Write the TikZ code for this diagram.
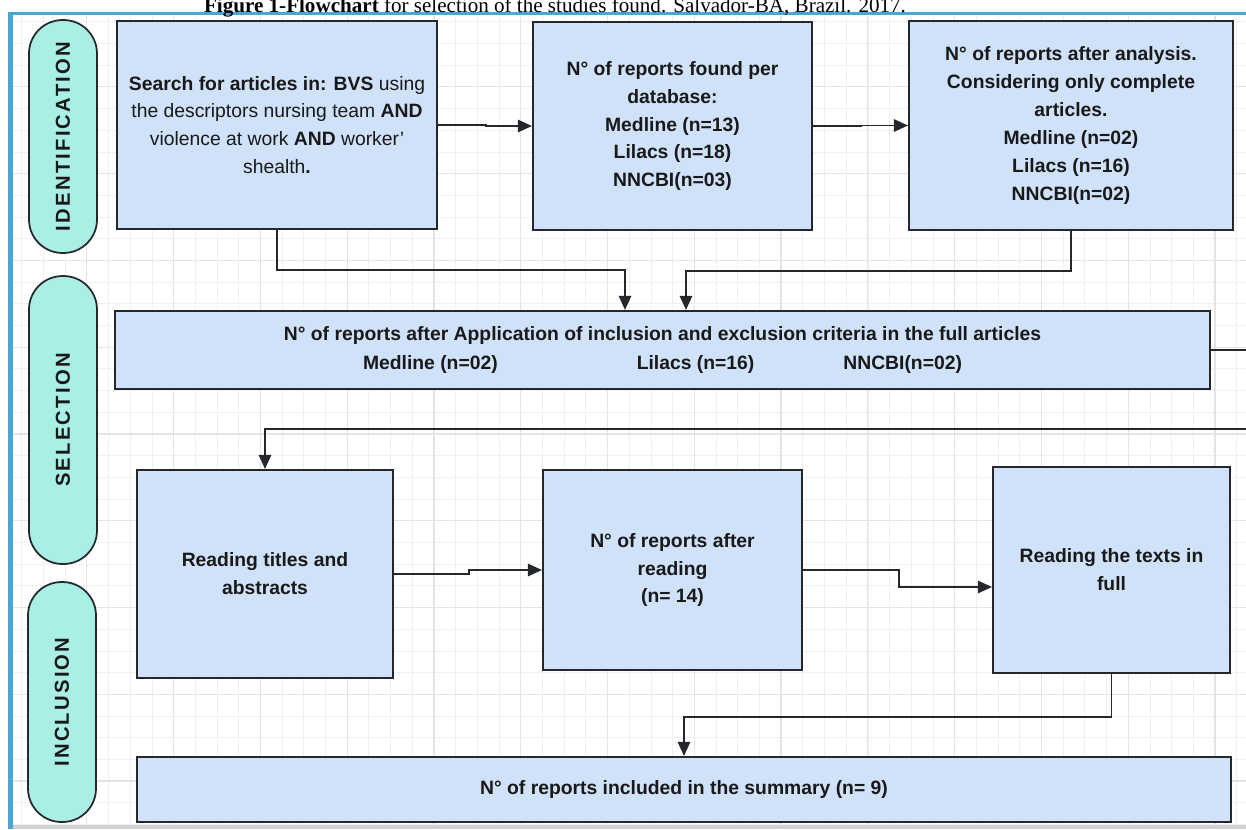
\documentclass[tikz,border=0pt]{standalone}
\usepackage{fontspec}
\setmainfont{Liberation Sans}
\newfontfamily\capfont{Liberation Serif}
\usepackage{tikz}
\usetikzlibrary{arrows.meta}
\definecolor{boxblue}{HTML}{CFE2FA}
\definecolor{lanegreen}{HTML}{AAEFE5}
\definecolor{edgegray}{HTML}{24282C}
\definecolor{frameblue}{HTML}{4BA6D8}
\definecolor{gridgray}{HTML}{E4E4E4}
\tikzstyle{box}      = [draw=edgegray,line width=1.2pt,fill=boxblue,align=center,inner sep=0pt,text=black!90,font=\fontsize{11}{15.9}\selectfont\bfseries]
\tikzstyle{lane}     = [draw=edgegray,line width=1pt,fill=lanegreen,rotate=90,rounded corners=0.67cm,minimum height=1.36cm,inner sep=0pt,text=black!90,font=\fontsize{11.5}{13}\selectfont\bfseries\addfontfeature{LetterSpace=11}]
\tikzstyle{arrow}    = [line width=1.1pt,draw=edgegray,-{Triangle[length=8pt,width=7pt]}]

\begin{document}
\begin{tikzpicture}[x=0.02cm,y=-0.02cm]
           \useasboundingbox(0,0)rectangle(1246,829);
           \clip(0,0)rectangle(1246,829);
           \fill[white](0,0)rectangle(1246,829);
           \draw[gridgray!55,line width=0.4pt,step=0.434cm](13,16)grid(1246,829);
           \draw[gridgray,line width=0.7pt,step=1.736cm](13,16)grid(1246,829);
           \fill[frameblue](8,12)rectangle(1246,15);
           \fill[frameblue](8,12)rectangle(13,829);
           \fill[gray!35](13,825)rectangle(1246,829);
           \node[anchor=base,font=\capfont\fontsize{12}{14}\selectfont](t)at(555,12){\textbf{Figure 1-Flowchart} for selection of the studies found. Salvador-BA, Brazil. 2017.};
           \node[lane,minimum width=4.66cm](p)at(63,136.5){IDENTIFICATION};
           \node[lane,minimum width=5.76cm](q)at(63,420){SELECTION};
           \node[lane,minimum width=4.8cm](r)at(62,702){INCLUSION};
           \node[box,minimum width=6.4cm,minimum height=4.16cm](a)at(277,125){Search for articles in: BVS \mdseries using\\ \mdseries the descriptors nursing team \bfseries AND\\ \mdseries violence at work \bfseries AND \mdseries worker'\\ \mdseries shealth\bfseries.};
           \node[box,minimum width=5.58cm,minimum height=4.16cm](b)at(672.5,126){N° of reports found per\\ database:\\ Medline (n=13)\\ Lilacs (n=18)\\ NNCBI(n=03)};
           \node[box,minimum width=6.48cm,minimum height=4.18cm](c)at(1071,125.5){N° of reports after analysis.\\ Considering only complete\\ articles.\\ Medline (n=02)\\ Lilacs (n=16)\\ NNCBI(n=02)};
           \node[box,minimum width=21.9cm,minimum height=1.56cm](d)at(662.5,350){N° of reports after Application of inclusion and exclusion criteria in the full articles\\[1pt] Medline (n=02)\hspace{2.78cm}Lilacs (n=16)\hspace{1.78cm}NNCBI(n=02)};
           \node[box,minimum width=5.12cm,minimum height=4.16cm](e)at(265,574){Reading titles and\\ abstracts};
           \node[box,minimum width=5.18cm,minimum height=4cm](f)at(672.5,570){N° of reports after\\ reading\\ (n= 14)};
           \node[box,minimum width=4.74cm,minimum height=4.12cm](g)at(1111.5,570){Reading the texts in\\ full};
           \node[box,minimum width=21.88cm,minimum height=1.3cm](h)at(684,789.5){N° of reports included in the summary (n= 9)};
           \draw[arrow](a.east)--++(48,0)|-(b.west);
           \draw[arrow](b.east)--++(48,0)|-(c.west);
           \draw[arrow](a.south)--++(0,40)-|([xshift=-0.75cm]d.north);
           \draw[arrow](c.south)--++(0,40)-|([xshift=0.47cm]d.north);
           \draw[arrow](d.east)--++(50,0)--++(0,79)-|(e.north);
           \draw[arrow](e.east)--++(75,0)|-(f.west);
           \draw[arrow](f.east)--++(96,0)|-([yshift=-0.34cm]g.west);
           \draw[arrow](g.south)--++(0,43)-|(h.north);
       \end{tikzpicture}
\end{document}
